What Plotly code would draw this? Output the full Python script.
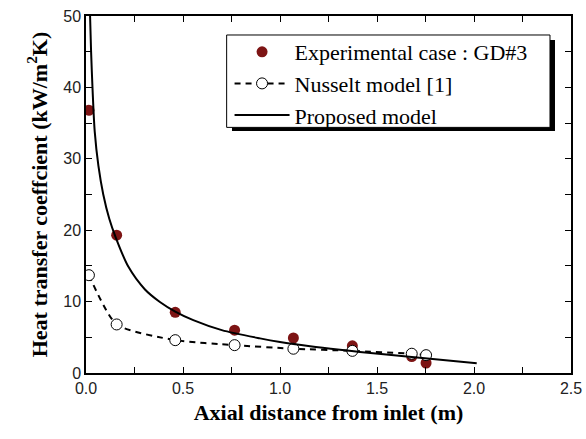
import plotly.graph_objects as go

# Experimental case : GD#3
exp_x = [0.015, 0.158, 0.46, 0.766, 1.069, 1.373, 1.679, 1.753]
exp_y = [36.8, 19.3, 8.5, 6.0, 4.9, 3.8, 2.3, 1.4]

# Nusselt model [1]
nus_x = [0.015, 0.158, 0.46, 0.766, 1.069, 1.373, 1.679, 1.753]
nus_y = [13.7, 6.8, 4.6, 3.9, 3.4, 3.1, 2.7, 2.5]

# Proposed model
prop_x = [0.021, 0.026, 0.034, 0.045, 0.064, 0.089, 0.12, 0.153, 0.218, 0.304,
          0.381, 0.46, 0.553, 0.7, 0.897, 1.0, 1.155, 1.309, 1.412, 1.653, 2.014]
prop_y = [50, 45.2, 39.6, 33.8, 29.0, 25.0, 21.6, 19.0, 14.9, 11.7,
          9.95, 8.6, 7.4, 6.0, 4.85, 4.35, 3.75, 3.25, 2.95, 2.3, 1.35]

fig = go.Figure()
fig.add_trace(go.Scatter(
    x=exp_x, y=exp_y, mode="markers", name="Experimental case : GD#3",
    marker=dict(color="#7d1414", size=11, line=dict(width=0)), legendrank=1))
fig.add_trace(go.Scatter(
    x=nus_x, y=nus_y, mode="lines+markers", name="Nusselt model [1]",
    line=dict(color="black", width=2, dash="6px,5px", shape="spline", smoothing=0.6),
    marker=dict(color="white", size=11, line=dict(color="black", width=1)), legendrank=2))
fig.add_trace(go.Scatter(
    x=prop_x, y=prop_y, mode="lines", name="Proposed model",
    line=dict(color="black", width=2, shape="spline", smoothing=0.8), legendrank=3))

axis_common = dict(
    showline=True, linecolor="black", linewidth=1.5, mirror="ticks",
    ticks="inside", ticklen=6, tickwidth=1.2, tickcolor="black",
    showgrid=False, zeroline=False, automargin=False,
    tickfont=dict(family="Liberation Sans, Arial, sans-serif", size=16, color="#222"),
    title_font=dict(family="Liberation Serif, Times New Roman, serif", size=22, color="black"),
)

fig.update_layout(
    width=586, height=439,
    margin=dict(l=86, r=15, t=16, b=66),
    paper_bgcolor="white", plot_bgcolor="white",
    showlegend=True,
    legend=dict(
        x=0.296, y=0.958, xanchor="left", yanchor="top",
        bgcolor="rgba(0,0,0,0)", borderwidth=0,
        font=dict(family="Liberation Serif, Times New Roman, serif", size=22, color="black"),
        itemwidth=55, tracegroupgap=0,
    ),
    shapes=[
        dict(type="rect", xref="paper", yref="paper", x0=0.301, x1=0.967, y0=0.678, y1=0.933,
             fillcolor="black", line=dict(width=0), layer="above"),
        dict(type="rect", xref="paper", yref="paper", x0=0.290, x1=0.9567, y0=0.688, y1=0.9468,
             fillcolor="white", line=dict(color="black", width=1), layer="above"),
    ],
)
fig.update_xaxes(axis_common, range=[0, 2.5], tickmode="linear", tick0=0, dtick=0.5,
                 tickformat=".1f",
                 minor=dict(dtick=0.25, ticks="inside", ticklen=6, tickwidth=1.2, tickcolor="black", showgrid=False),
                 title_text="<b>Axial distance from inlet (m)</b>", title_standoff=9)
fig.update_yaxes(axis_common, range=[0, 50], tickmode="linear", tick0=0, dtick=10,
                 minor=dict(dtick=5, ticks="inside", ticklen=6, tickwidth=1.2, tickcolor="black", showgrid=False),
                 title_text="<b>Heat transfer coeffcient (kW/m<sup>2</sup>K)</b>", title_standoff=10)

fig.write_html("out.html")
